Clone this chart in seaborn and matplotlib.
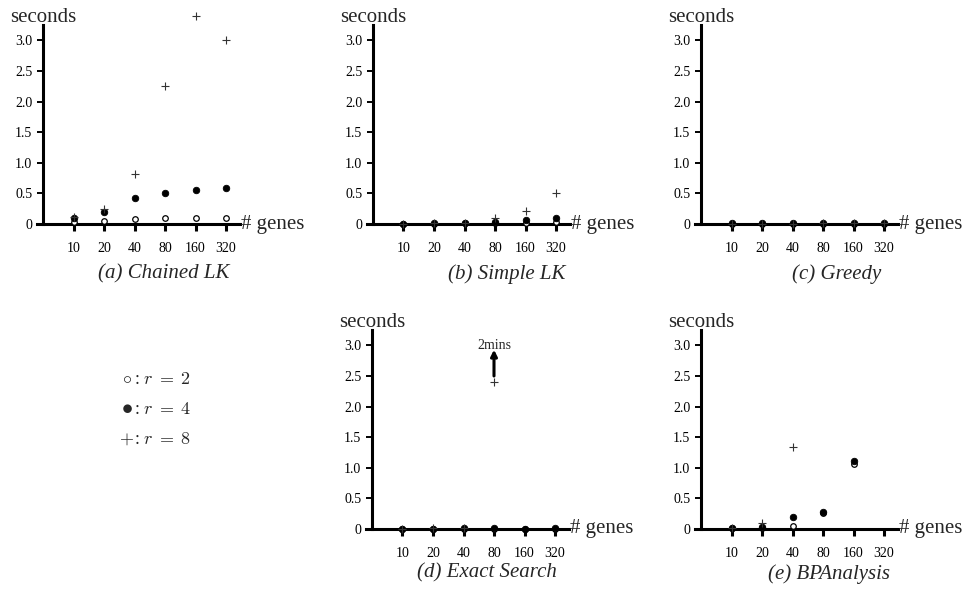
import numpy as np
import matplotlib
matplotlib.use("Agg")
import matplotlib.pyplot as plt
import seaborn as sns
from matplotlib.ticker import FixedLocator, NullLocator, FixedFormatter

# ---------------- data ----------------
genes = [10, 20, 40, 80, 160, 320]
gene_labels = ["10", "20", "40", "80", "160", "320"]
yticks = [0, 0.5, 1.0, 1.5, 2.0, 2.5, 3.0]
ytick_labels = ["0", "0.5", "1.0", "1.5", "2.0", "2.5", "3.0"]
nan = np.nan

chained_r2 = [0.03, 0.05, 0.08, 0.10, 0.10, 0.10]
chained_r4 = [0.09, 0.20, 0.43, 0.51, 0.56, 0.59]
chained_r8 = [0.12, 0.25, 0.81, 2.25, 3.40, 3.00]

simple_r2 = [0.00, 0.00, 0.01, 0.01, 0.02, 0.04]
simple_r4 = [0.00, 0.01, 0.02, 0.03, 0.06, 0.10]
simple_r8 = [0.00, 0.01, 0.02, 0.09, 0.22, 0.51]

greedy_r2 = [0.00, 0.00, 0.00, 0.00, 0.00, 0.00]
greedy_r4 = [0.01, 0.01, 0.01, 0.01, 0.01, 0.02]
greedy_r8 = [0.00, 0.00, 0.00, 0.01, 0.01, 0.02]

exact_r2 = [0.00, 0.00, 0.00, 0.00, 0.00, 0.00]
exact_r4 = [0.00, 0.00, 0.01, 0.01, 0.00, 0.01]
exact_r8 = [0.00, 0.01, 0.02, 2.40, nan, nan]

bpa_r2 = [0.01, 0.02, 0.05, 0.26, 1.06, nan]
bpa_r4 = [0.02, 0.04, 0.20, 0.28, 1.11, nan]
bpa_r8 = [0.01, 0.09, 1.34, nan, nan, nan]

titles = ["(a) Chained LK", "(b) Simple LK", "(c) Greedy",
          "(d) Exact Search", "(e) BPAnalysis"]
legend_symbols = [r"$\circ$", r"$\bullet$", r"$+$"]
legend_texts = [r": $r\;=\;2$", r": $r\;=\;4$", r": $r\;=\;8$"]

# ---------------- style ----------------
sns.set_theme(style="white")
plt.rcParams["font.family"] = ["Liberation Serif", "DejaVu Serif"]
plt.rcParams["mathtext.fontset"] = "cm"

W, H = 964, 592
fig = plt.figure(figsize=(W / 100, H / 100), dpi=100)

UX = 30.5   # px per doubling
UY = 61.2   # px per second

# (y-axis x px, zero-line y px, title centre x px, title centre y px)
layout = [
    (43, 224, 164, 274),
    (373, 224, 507, 274),
    (701, 224, 837, 274),
    (372, 529, 487, 573),
    (701, 529, 829, 574),
]
panels = [
    (chained_r2, chained_r4, chained_r8),
    (simple_r2, simple_r4, simple_r8),
    (greedy_r2, greedy_r4, greedy_r8),
    (exact_r2, exact_r4, exact_r8),
    (bpa_r2, bpa_r4, bpa_r8),
]

x0 = 5.0  # genes value at the y-axis (one doubling before 10)
xlo, xhi = -0.2, 6.5

for i, ((yx, zy, tx, ty), (r2, r4, r8)) in enumerate(zip(layout, panels)):
    left = (yx + xlo * UX) / W
    width = (xhi - xlo) * UX / W
    bottom = (H - zy) / H
    height = 3.5 * UY / H
    ax = fig.add_axes([left, bottom, width, height])
    ax.set_xscale("log", base=2)
    ax.set_xlim(x0 * 2 ** xlo, x0 * 2 ** xhi)
    ax.set_ylim(0, 3.5)
    ax.patch.set_alpha(0)

    sns.scatterplot(x=genes, y=r2, marker="o", s=16, color="white",
                    edgecolor="black", linewidth=0.9, ax=ax, clip_on=False, zorder=3)
    sns.scatterplot(x=genes, y=r4, marker="o", s=22, color="black",
                    edgecolor="black", linewidth=0.6, ax=ax, clip_on=False, zorder=4)
    sns.scatterplot(x=genes, y=r8, marker="+", s=40, color="#333333",
                    linewidth=0.8, ax=ax, clip_on=False, zorder=5)

    for s in ["top", "right"]:
        ax.spines[s].set_visible(False)
    ax.spines["left"].set_position(("data", x0))
    ax.spines["left"].set_bounds(0, 3.25)
    ax.spines["bottom"].set_bounds(x0 * 2 ** xlo, x0 * 2 ** 6.45)
    for s in ["left", "bottom"]:
        ax.spines[s].set_linewidth(2.2)
        ax.spines[s].set_color("black")
        ax.spines[s].set_zorder(2)

    ax.xaxis.set_major_locator(FixedLocator(genes))
    ax.xaxis.set_major_formatter(FixedFormatter(gene_labels))
    ax.xaxis.set_minor_locator(NullLocator())
    ax.yaxis.set_major_locator(FixedLocator(yticks))
    ax.yaxis.set_major_formatter(FixedFormatter(ytick_labels))
    ax.tick_params(axis="x", direction="out", length=5, width=2.2, pad=8,
                   labelsize=10, colors="black", bottom=True)
    ax.tick_params(axis="y", direction="out", length=4.2, width=1.4, pad=3.5,
                   labelsize=10, colors="black", left=True)
    ax.grid(False)

    ax.annotate("seconds", xy=(x0, 3.25), xytext=(0, 2.5), textcoords="offset points",
                ha="center", va="baseline", fontsize=15, annotation_clip=False)
    ax.annotate("# genes", xy=(x0 * 2 ** 6.45, 0), xytext=(1, 0), textcoords="offset points",
                ha="left", va="center", fontsize=15, annotation_clip=False)

    fig.text(tx / W, 1 - ty / H, titles[i], ha="center", va="center",
             fontsize=15, style="italic")

    if i == 3:
        ax.annotate("", xy=(80, 2.93), xytext=(80, 2.5),
                    arrowprops=dict(arrowstyle="-|>", lw=2.2, color="black",
                                    mutation_scale=9, shrinkA=0, shrinkB=0))
        ax.text(80, 3.0, "2mins", ha="center", va="center", fontsize=10)

sym_sizes = [13, 16, 13]
for k in range(3):
    yy = 1 - (379 + 30 * k) / H
    fig.text(127 / W, yy, legend_symbols[k], ha="center", va="center",
             fontsize=sym_sizes[k])
    fig.text(133.5 / W, yy, legend_texts[k], ha="left", va="center", fontsize=13)

fig.savefig("out.png", dpi=100)
